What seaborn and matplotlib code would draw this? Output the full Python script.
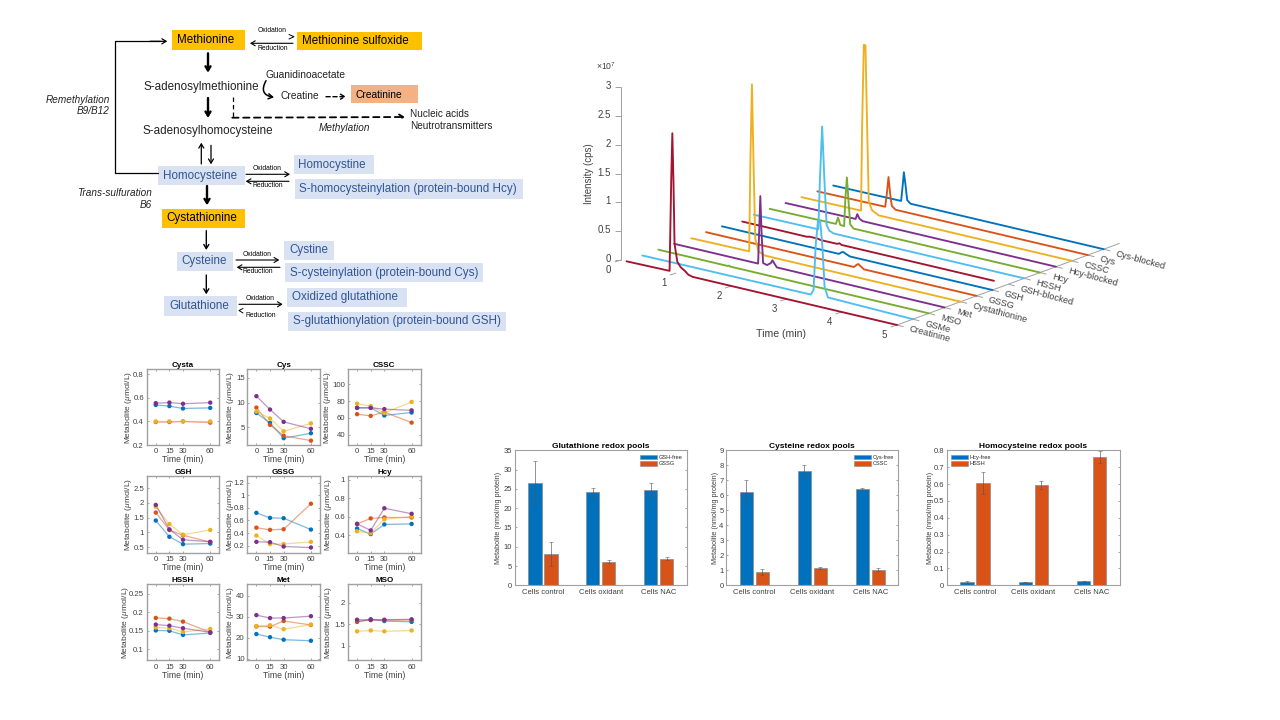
import numpy as np
import pandas as pd
import matplotlib
matplotlib.use("Agg")
import matplotlib.pyplot as plt
from matplotlib.patches import Rectangle, Patch
import seaborn as sns

# ---------- data: kinetics panels ----------
MINUTES = [0, 15, 30, 60]
GROUPS = ["blue", "red", "orange", "purple"]
CYSTA = [[.54, .53, .51, .515], [.395, .395, .40, .39], [.40, .40, .40, .40], [.555, .56, .55, .56]]
CYS = [[7.9, 5.9, 2.8, 3.8], [9.0, 5.5, 3.3, 2.3], [8.2, 6.8, 4.2, 5.8], [11.3, 8.6, 6.1, 4.7]]
CSSC = [[72, 72, 63, 66.5], [64.5, 62.5, 67, 54.5], [77, 74, 66, 79], [72, 72, 70.5, 69]]
GSH = [[1.4, .85, .6, .62], [1.67, 1.08, .9, .67], [1.87, 1.28, .92, 1.08], [1.93, 1.1, .75, .68]]
GSSG = [[.72, .64, .635, .455], [.485, .45, .46, .865], [.36, .225, .225, .26], [.26, .255, .185, .17]]
HCY = [[.47, .41, .515, .52], [.52, .58, .59, .59], [.44, .42, .57, .6], [.52, .45, .69, .63]]
HSSH = [[.151, .15, .139, .144], [.185, .183, .175, .146], [.159, .157, .147, .155], [.167, .164, .157, .146]]
MET = [[21.7, 20.2, 19, 18.5], [25.3, 25.2, 27.9, 26], [25.5, 25.9, 24, 26.2], [30.7, 29.3, 29.3, 30.2]]
MSO = [[1.56, 1.62, 1.58, 1.56], [1.57, 1.6, 1.6, 1.6], [1.34, 1.36, 1.34, 1.36], [1.61, 1.61, 1.61, 1.62]]

# ---------- data: redox bars ----------
CONDITIONS = ["Cells control", "Cells oxidant", "Cells NAC"]
GSH_FREE = [26.5, 24.1, 24.7]
GSH_FREE_ERR = [5.6, 1.2, 1.7]
GSSG_POOL = [8.1, 6.1, 6.9]
GSSG_POOL_ERR = [3.0, .35, .45]
CYS_FREE = [6.25, 7.65, 6.4]
CYS_FREE_ERR = [.78, .35, .07]
CSSC_POOL = [.92, 1.15, 1.03]
CSSC_POOL_ERR = [.2, .07, .1]
HCY_FREE = [.02, .02, .023]
HCY_FREE_ERR = [.004, .002, .001]
HSSH_POOL = [.605, .592, .76]
HSSH_POOL_ERR = [.066, .024, .035]

# ---------- data: chromatogram traces (time in min, intensity in 1e7 cps) ----------
TRACE_NAMES = ["Creatinine", "GSMe", "MSO", "Met", "Cystathionine", "GSSG", "GSH",
               "GSH-blocked", "HSSH", "Hcy", "Hcy-blocked", "CSSC", "Cys", "Cys-blocked"]
T0 = [.1, .88, .91, .93, .95, .97, 1.02, 1.08, 1.16, 1.22, 1.3, 5.0]
I0 = [0, .01, 1.6, 2.41, 1.6, .5, .2, .12, .07, .02, 0, 0]
T1 = [.1, 3.15, 3.2, 3.24, 3.28, 3.32, 3.36, 3.4, 3.46, 5.0]
I1 = [0, .01, .1, .9, 1.32, 1.32, .9, .2, .03, 0]
T2 = [.1, 1.36, 1.38, 1.40, 5.0]
I2 = [0, 0, .012, 0, 0]
T3 = [.1, 1.62, 1.64, 1.66, 1.68, 1.71, 1.78, 1.85, 1.88, 1.92, 1.96, 5.0]
I3 = [0, 0, .6, 1.18, .6, .03, .01, .06, .115, .06, .01, 0]
T4 = [.12, 1.17, 1.19, 1.22, 1.25, 1.28, 1.34, 1.45, 5.0]
I4 = [0, .01, 1.5, 2.92, 1.5, .25, .05, 0, 0]
T5 = [.1, 2.78, 2.83, 2.86, 2.9, 2.96, 5.0]
I5 = [0, 0, .05, .07, .04, 0, 0]
T6 = [.1, 2.22, 2.27, 2.3, 2.34, 2.42, 5.0]
I6 = [0, 0, .04, .05, .03, 0, 0]
T7 = [.18, 1.35, 1.4, 1.55, 1.6, 1.9, 1.94, 1.98, 4.74]
I7 = [0, 0, .012, .012, 0, 0, .02, 0, 0]
T8 = [.1, 1.27, 1.3, 1.34, 1.38, 1.42, 1.47, 1.55, 5.0]
I8 = [0, .01, .9, 1.81, .9, .12, .03, 0, 0]
T9 = [.1, 1.3, 1.34, 1.38, 1.45, 1.47, 1.5, 1.53, 1.56, 1.62, 5.0]
I9 = [0, .01, .13, .01, .005, .45, .86, .45, .06, 0, 0]
T10 = [.1, 1.37, 1.40, 1.44, 1.5, 5.0]
I10 = [0, .01, .10, .03, 0, 0]
T11 = [.1, 1.18, 1.2, 1.23, 1.26, 1.29, 1.32, 1.38, 1.5, 5.0]
I11 = [0, .01, 1.5, 2.9, 2.9, 1.5, .2, .06, 0, 0]
T12 = [.1, 1.33, 1.36, 1.39, 1.42, 1.45, 1.52, 5.0]
I12 = [0, .01, .25, .54, .25, .05, 0, 0]
T13 = [.1, 1.33, 1.36, 1.38, 1.41, 1.44, 1.5, 5.0]
I13 = [0, .01, .3, .52, .3, .05, 0, 0]
TRACE_TIMES = [T0, T1, T2, T3, T4, T5, T6, T7, T8, T9, T10, T11, T12, T13]
TRACE_INTENSITIES = [I0, I1, I2, I3, I4, I5, I6, I7, I8, I9, I10, I11, I12, I13]
INTENSITY_TICKS = ["0", "0.5", "1", "1.5", "2", "2.5", "3"]
INTENSITY_TICK_VALUES = [0, .5, 1, 1.5, 2, 2.5, 3]
TIME_TICK_VALUES = [0, 1, 2, 3, 4, 5]

# ---------- styles ----------
sns.set_theme(style="white")
plt.rcParams["font.family"] = ["Liberation Sans", "DejaVu Sans"]
plt.rcParams["mathtext.fontset"] = "custom"
plt.rcParams["mathtext.rm"] = "Liberation Sans"
plt.rcParams["mathtext.it"] = "Liberation Sans:italic"

BLUE, RED, ORANGE, PURPLE = "#0072BD", "#D95319", "#EDB120", "#7E2F8E"
GREEN, SKY, CRIMSON = "#77AC30", "#4DBEEE", "#A2142F"
ORDER = [CRIMSON, SKY, GREEN, PURPLE, ORANGE, RED, BLUE]
TXT = "#404040"
AXC = "#a0a0a0"
W, H = 1280, 720

fig = plt.figure(figsize=(12.8, 7.2), dpi=100, facecolor="white")
canvas = fig.add_axes([0, 0, 1, 1])
canvas.set_xlim(0, W)
canvas.set_ylim(H, 0)
canvas.axis("off")


def px_axes(left, top, right, bottom):
    return fig.add_axes([left / W, 1 - bottom / H, (right - left) / W, (bottom - top) / H])


# ---------- pathway diagram ----------
YEL, SAL, LBL = "#FFC000", "#F4B183", "#D9E2F3"
BT = "#2F5597"
BOXES = [
    (172, 30, 245, 50, YEL), (297, 32, 421.7, 50, YEL), (351, 85, 417.7, 102.7, SAL),
    (158, 166, 245, 185, LBL), (294, 155, 373.7, 174, LBL), (295, 179, 522.7, 199, LBL),
    (162, 209, 245, 228, YEL), (177, 252, 233, 271, LBL), (284, 241, 333.7, 260, LBL),
    (285, 263, 482.7, 282, LBL), (164, 296, 237, 316, LBL), (287, 288, 406.7, 307, LBL),
    (288, 312, 505.7, 331, LBL),
]
for x0, y0, x1, y1, c in BOXES:
    canvas.add_patch(Rectangle((x0, y0), x1 - x0, y1 - y0, fc=c, ec="none"))


def t(x, y, s, size=8.4, color="#222222", ha="center", **kw):
    canvas.text(x, y, s, fontsize=size, color=color, ha=ha, va="center", **kw)


t(205.7, 40, "Methionine", color="black")
t(355, 40.7, "Methionine sulfoxide", color="black")
t(201.3, 86.7, "S-adenosylmethionine")
t(306, 75, "Guanidinoacetate", 7.4)
t(299.7, 96, "Creatine", 7.4)
t(379, 94.7, "Creatinine", 7.4, color="black")
t(410.3, 114, "Nucleic acids", 7.2, ha="left")
t(410.3, 126, "Neutrotransmitters", 7.2, ha="left")
t(344, 127.7, "Methylation", 7.2, style="italic")
t(208.3, 130.7, "S-adenosylhomocysteine")
t(110, 100, "Remethylation", 7.2, ha="right", style="italic")
t(110, 110.7, "B9/B12", 7.2, ha="right", style="italic")
t(200, 176, "Homocysteine", color=BT)
t(151.7, 192.7, "Trans-sulfuration", 7.2, ha="right", style="italic")
t(151.7, 204.7, "B6", 7.2, ha="right", style="italic")
t(298, 164.7, "Homocystine", color=BT, ha="left")
t(299.3, 188.7, "S-homocysteinylation (protein-bound Hcy)", color=BT, ha="left")
t(201.7, 218, "Cystathionine", color="black")
t(204.3, 260.7, "Cysteine", color=BT)
t(289.3, 250, "Cystine", color=BT, ha="left")
t(290.3, 272.7, "S-cysteinylation (protein-bound Cys)", color=BT, ha="left")
t(199, 305.7, "Glutathione", color=BT)
t(292.3, 296.7, "Oxidized glutathione", color=BT, ha="left")
t(293.3, 320.7, "S-glutathionylation (protein-bound GSH)", color=BT, ha="left")
for ox, oy, rx, ry in [(272, 30.3, 273, 48.3), (267, 168.3, 268, 185.3),
                       (257, 254.3, 258, 271.3), (260, 298.3, 261, 315.3)]:
    t(ox, oy, "Oxidation", 4.9, color="black")
    t(rx, ry, "Reduction", 4.9, color="black")


def arrow(x0, y0, x1, y1, lw=1.0, ls="-", rad=0):
    canvas.annotate("", xy=(x1, y1), xytext=(x0, y0),
                    arrowprops=dict(arrowstyle="->,head_length=0.25,head_width=0.15", lw=lw, ls=ls,
                                    color="black", shrinkA=0, shrinkB=0,
                                    connectionstyle=f"arc3,rad={rad}"))


for a in [(208, 53.3, 208, 72.7, 1.7), (208, 98, 208, 118, 1.7), (207, 186, 207, 205.3, 1.7),
          (201.3, 164, 201.3, 142.7, .9), (211, 145.3, 211, 164.3, .9),
          (206.3, 230.7, 206.3, 250, 1.0), (206.3, 275, 206.3, 294.3, 1.0),
          (246, 174.3, 290, 174.3, .8), (289, 181.3, 245.7, 181.3, .8),
          (236, 260, 279.3, 260, .8), (280, 267.3, 236.7, 267.3, .8),
          (239, 304.3, 282.7, 304.3, .8), (293, 43.3, 250, 43.3, .8)]:
    arrow(*a)
canvas.plot([158, 115.3, 115.3, 160], [173.3, 173.3, 41.3, 41.3], color="black", lw=.9)
arrow(150, 41.3, 167.3, 41.3, .9)
arrow(266, 80.7, 274, 97.3, 1.1, rad=.7)
arrow(326, 96.7, 346, 96.7, 1.0, ls=(0, (3, 2)))
arrow(232.3, 117.7, 405, 117, 1.3, ls=(0, (3.5, 2.5)))
canvas.plot([233.3, 233.3], [97.3, 116.7], color="black", lw=.9, ls=(0, (3.5, 2.5)))
canvas.plot([289, 294, 289], [34.5, 36.7, 39], color="black", lw=.7)
canvas.plot([243, 239, 243], [308.5, 310.5, 313], color="black", lw=.7)


# ---------- chromatogram waterfall ----------
ORIGIN = np.array([621.0, 260.0])
DT = np.array([55.2, 13.0])
DS = np.array([15.9, -5.83])
DI = np.array([0.0, -57.6])


def project(time, series, intensity):
    p = ORIGIN + np.outer(np.asarray(time, float), DT) + series * DS + np.outer(np.asarray(intensity, float), DI)
    return p[:, 0], p[:, 1]


def seg(a, b):
    canvas.plot([a[0], b[0]], [a[1], b[1]], color=AXC, lw=.7, solid_capstyle="butt")


top = ORIGIN + 3 * DI
seg(ORIGIN, top)
seg(ORIGIN + 5 * DT, ORIGIN + 5 * DT + 14 * DS)
for val, lab in zip(INTENSITY_TICK_VALUES, INTENSITY_TICKS):
    p = ORIGIN + val * DI
    seg(p, p + [-6, 0])
    canvas.text(611, p[1] - 1, lab, fontsize=7, color=TXT, ha="right", va="center")
for tv in TIME_TICK_VALUES:
    p = ORIGIN + tv * DT
    seg(p, p + [-6.3, 2])
    canvas.text(p[0] - 12.3, p[1] + 10.3, str(tv), fontsize=7, color=TXT, ha="center", va="center")
for i, nm in enumerate(TRACE_NAMES):
    p = ORIGIN + 5 * DT + i * DS
    seg(p, p + [6.5, 1.7])
    canvas.text(p[0] + 12, p[1] + 4, nm, fontsize=6.7, color=TXT, rotation=-15,
                rotation_mode="anchor", ha="left", va="center")
canvas.text(781, 333.7, "Time (min)", fontsize=7.6, color=TXT, ha="center", va="center")
canvas.text(589, 174, "Intensity (cps)", fontsize=7, color=TXT, rotation=90, ha="center", va="center")
canvas.text(606, 66, r"$\times 10^{7}$", fontsize=6.2, color=TXT, ha="center", va="center")

for i in range(len(TRACE_NAMES) - 1, -1, -1):
    xs, ys = project(TRACE_TIMES[i], i, TRACE_INTENSITIES[i])
    d = pd.DataFrame({"px": xs, "py": ys})
    sns.lineplot(data=d, x="px", y="py", estimator=None, sort=False, ax=canvas,
                 color=ORDER[i % 7], lw=1.35, legend=False)
canvas.set_xlim(0, W)
canvas.set_ylim(H, 0)
canvas.axis("off")


# ---------- small kinetics panels ----------
def style_box(ax, lw=1.0, size=5.4):
    for s in ax.spines.values():
        s.set_color(AXC)
        s.set_linewidth(lw)
        s.set_visible(True)
    ax.tick_params(axis="both", direction="in", length=1.5, width=.5, color="#808080",
                   labelsize=size, labelcolor=TXT, pad=2, top=True, right=True, bottom=True, left=True)


COLS = [(146.7, 219.3), (247.3, 320), (348, 420.7)]
ROWS = [(369, 445), (476.3, 553), (584, 660.3)]
YLABEL_GAPS = [12.7, 11.3, 15, 12.7, 11.3, 14, 15.7, 11.3, 14]
PANELS = [
    ("Cysta", CYSTA, (.2, .845), [.2, .4, .6, .8], ["0.2", "0.4", "0.6", "0.8"]),
    ("Cys", CYS, (1.42, 16.8), [5, 10, 15], ["5", "10", "15"]),
    ("CSSC", CSSC, (28, 118), [40, 60, 80, 100], ["40", "60", "80", "100"]),
    ("GSH", GSH, (.3, 2.9), [.5, 1, 1.5, 2, 2.5], ["0.5", "1", "1.5", "2", "2.5"]),
    ("GSSG", GSSG, (.083, 1.3), [.2, .4, .6, .8, 1, 1.2], ["0.2", "0.4", "0.6", "0.8", "1", "1.2"]),
    ("Hcy", HCY, (.205, 1.036), [.4, .6, .8, 1], ["0.4", "0.6", "0.8", "1"]),
    ("HSSH", HSSH, (.07, .277), [.1, .15, .2, .25], ["0.1", "0.15", "0.2", "0.25"]),
    ("Met", MET, (9.2, 45.5), [10, 20, 30, 40], ["10", "20", "30", "40"]),
    ("MSO", MSO, (.667, 2.44), [1, 1.5, 2], ["1", "1.5", "2"]),
]
palette = dict(zip(GROUPS, [BLUE, RED, ORANGE, PURPLE]))
for k, (name, vals, lim, ticks, labs) in enumerate(PANELS):
    l, r = COLS[k % 3]
    tp, b = ROWS[k // 3]
    ax = px_axes(l, tp, r, b)
    rec = [(m, g, vals[gi][mi]) for gi, g in enumerate(GROUPS) for mi, m in enumerate(MINUTES)]
    d = pd.DataFrame(rec, columns=["minute", "group", "value"])
    sns.lineplot(data=d, x="minute", y="value", hue="group", hue_order=GROUPS, palette=palette,
                 lw=.9, alpha=.5, errorbar=None, legend=False, ax=ax)
    sns.scatterplot(data=d, x="minute", y="value", hue="group", hue_order=GROUPS, palette=palette,
                    s=10, linewidth=0, legend=False, ax=ax, zorder=3)
    ax.set_xlim(-10, 70)
    ax.set_ylim(*lim)
    ax.set_xticks(MINUTES)
    ax.set_yticks(ticks)
    ax.set_yticklabels(labs)
    style_box(ax, size=5.6)
    ax.tick_params(axis="x", pad=2.5)
    ax.set_title(name, fontsize=5.8, fontweight="bold", color="black", pad=1.5)
    ax.set_xlabel("Time (min)", fontsize=6.2, color=TXT, labelpad=0)
    ax.set_ylabel(r"Metabolite ($\mu$mol/L)", fontsize=6, color=TXT)
    ax.yaxis.set_label_coords(-YLABEL_GAPS[k] / (r - l), .5)


# ---------- redox bars ----------
BAR_PANELS = [
    ("Glutathione redox pools", (515, 686.7), 13, ["GSH-free", "GSSG"], GSH_FREE, GSSG_POOL, GSH_FREE_ERR,
     GSSG_POOL_ERR, list(range(0, 36, 5)), (0, 35), ["0", "5", "10", "15", "20", "25", "30", "35"], "upper right"),
    ("Cysteine redox pools", (726.3, 898.3), 7.5, ["Cys-free", "CSSC"], CYS_FREE, CSSC_POOL, CYS_FREE_ERR,
     CSSC_POOL_ERR, list(range(0, 10)), (0, 9), [str(i) for i in range(10)], "upper right"),
    ("Homocysteine redox pools", (946.7, 1120), 13, ["Hcy-free", "HSSH"], HCY_FREE, HSSH_POOL, HCY_FREE_ERR,
     HSSH_POOL_ERR, [0, .1, .2, .3, .4, .5, .6, .7, .8], (0, .8),
     ["0", "0.1", "0.2", "0.3", "0.4", "0.5", "0.6", "0.7", "0.8"], "upper left"),
]
for title, (l, r), gap, names, a, b_, ea, eb, ticks, lim, labs, loc in BAR_PANELS:
    ax = px_axes(l, 450.3, r, 585.3)
    d = pd.DataFrame({"cond": CONDITIONS * 2, "kind": [names[0]] * 3 + [names[1]] * 3, "val": list(a) + list(b_)})
    sns.barplot(data=d, x="cond", y="val", hue="kind", hue_order=names, palette=[BLUE, RED], saturation=1,
                width=.55, gap=.17, edgecolor="#8a8a8a", linewidth=.5, errorbar=None, legend=False, ax=ax)
    bars = [p for p in ax.patches if p.get_width() > 0][:6]
    for p, v, e in zip(bars, list(a) + list(b_), list(ea) + list(eb)):
        ax.errorbar(p.get_x() + p.get_width() / 2, v, yerr=e, color="#555555", lw=.6, alpha=.75,
                    capsize=1.3, capthick=.5, zorder=4)
    ax.set_xlim(-.485, 2.485)
    ax.set_ylim(*lim)
    ax.set_yticks(ticks)
    ax.set_yticklabels(labs)
    style_box(ax, lw=.8, size=5.5)
    ax.tick_params(axis="x", top=False, bottom=False, pad=3)
    ax.set_xlabel("")
    ax.set_title(title, fontsize=6, fontweight="bold", color="black", pad=1.5)
    ax.set_ylabel("Metabolite (nmol/mg protein)", fontsize=5.2, color=TXT)
    ax.yaxis.set_label_coords(-gap / (r - l), .5)
    hs = [Patch(fc=BLUE, ec="#8a8a8a", lw=.4), Patch(fc=RED, ec="#8a8a8a", lw=.4)]
    ax.legend(hs, names, loc=loc, frameon=False, fontsize=4.1, handlelength=3.0, handleheight=.85,
              handletextpad=.25, labelspacing=.2, borderaxespad=.5, borderpad=.3)

fig.savefig("out.png", dpi=100, facecolor="white")
